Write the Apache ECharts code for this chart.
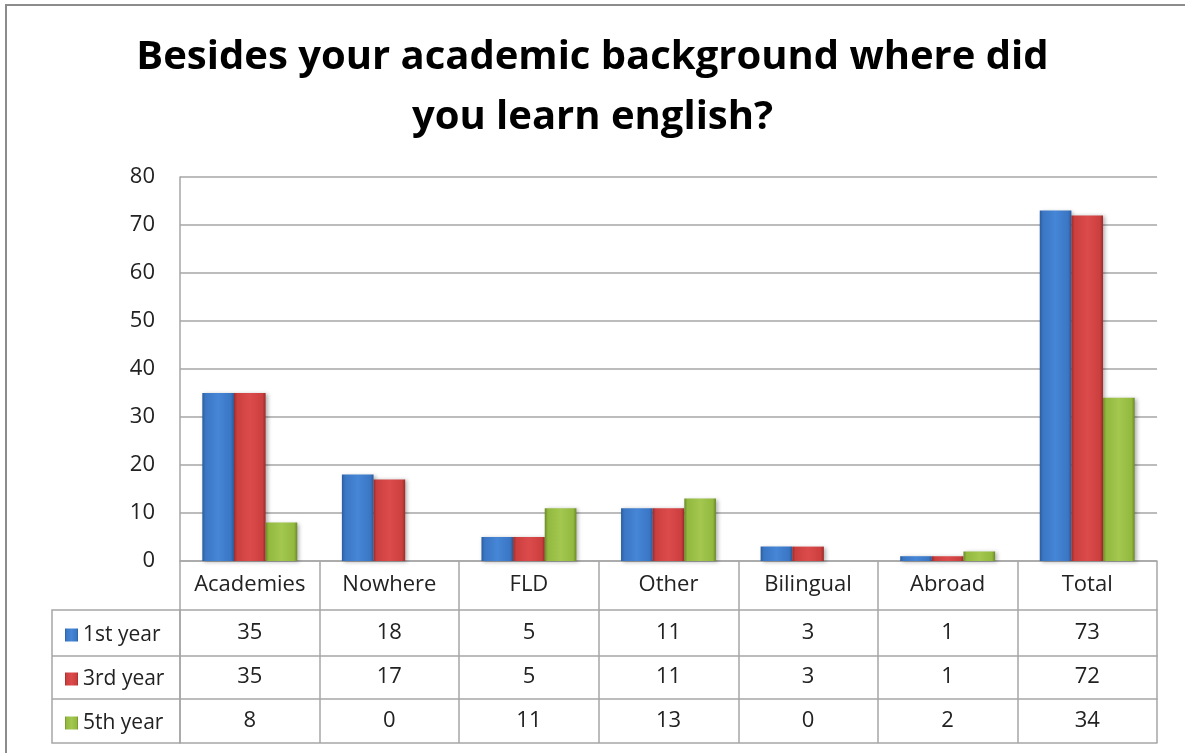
<!DOCTYPE html>
<html>
<head>
<meta charset="utf-8">
<script src="https://cdn.jsdelivr.net/npm/echarts@6/dist/echarts.min.js"></script>
<style>
  html, body { margin: 0; padding: 0; background: #fff; }
  #chart { width: 1185px; height: 753px; }
</style>
</head>
<body>
<div id="chart"></div>
<script>
  var categories = ['Academies', 'Nowhere', 'FLD', 'Other', 'Bilingual', 'Abroad', 'Total'];
  var seriesNames = ['1st year', '3rd year', '5th year'];
  var firstYear = [35, 18, 5, 11, 3, 1, 73];
  var thirdYear = [35, 17, 5, 11, 3, 1, 72];
  var fifthYear = [8, 0, 11, 13, 0, 2, 34];
  var yTicks = [0, 10, 20, 30, 40, 50, 60, 70, 80];

  var font = '"Open Sans", "DejaVu Sans", sans-serif';
  var lineCol = '#a6a6a6';

  // horizontal gradient to get the bevelled bar look
  function bevel(dark, mid, light) {
    return new echarts.graphic.LinearGradient(0, 0, 1, 0, [
      {offset: 0, color: dark},
      {offset: 0.1, color: mid},
      {offset: 0.5, color: light},
      {offset: 0.9, color: mid},
      {offset: 1, color: dark}
    ]);
  }
  var colors = [
    bevel('#2a5c9c', '#3a76c4', '#4686d6'),
    bevel('#9c2b2b', '#cc3f3f', '#dc4b4b'),
    bevel('#6a8a28', '#93b93f', '#a3c74f')
  ];
  var values = [firstYear, thirdYear, fifthYear];

  // one extra x axis per table row, labels = the row values
  function rowAxis(data, offset, margin) {
    return {
      type: 'category',
      position: 'bottom',
      offset: offset,
      data: data.map(String),
      axisLine: {show: true, lineStyle: {color: lineCol, width: 1.5}},
      axisTick: {show: false},
      axisLabel: {
        show: data.length > 0,
        interval: 0,
        margin: margin,
        fontSize: 22,
        lineHeight: 22,
        fontFamily: font,
        color: '#222'
      }
    };
  }

  var chart = echarts.init(document.getElementById('chart'));
  chart.setOption({
    animation: false,
    title: {
      text: 'Besides your academic background where did\nyou learn english?',
      left: 'center',
      top: 28,
      padding: 0,
      textStyle: {
        fontSize: 40,
        fontWeight: 'bold',
        fontFamily: font,
        lineHeight: 60,
        color: '#000'
      }
    },
    legend: {
      orient: 'vertical',
      left: 60,
      top: 619,
      itemWidth: 13,
      itemHeight: 13,
      itemGap: 22,
      icon: 'rect',
      data: seriesNames,
      textStyle: {
        fontSize: 21,
        lineHeight: 22,
        fontFamily: font,
        color: '#222',
        padding: [0, 0, 0, 0]
      }
    },
    grid: {left: 180, right: 28, top: 177, bottom: 192},
    xAxis: [
      {
        type: 'category',
        data: categories,
        axisLine: {show: true, lineStyle: {color: lineCol, width: 1.5}},
        axisTick: {show: true, interval: 0, length: 182, lineStyle: {color: lineCol, width: 1.5}},
        axisLabel: {interval: 0, margin: 13, fontSize: 22, lineHeight: 22, fontFamily: font, color: '#222'}
      },
      rowAxis(firstYear, 49, 12),
      rowAxis(thirdYear, 95, 10),
      rowAxis(fifthYear, 138, 11),
      rowAxis([], 182, 0)
    ],
    yAxis: {
      type: 'value',
      min: yTicks[0],
      max: yTicks[yTicks.length - 1],
      interval: 10,
      axisLine: {show: true, lineStyle: {color: lineCol, width: 1.5}},
      axisTick: {show: false},
      splitLine: {lineStyle: {color: lineCol, width: 1.5}},
      axisLabel: {margin: 25, fontSize: 22, fontFamily: font, color: '#222'}
    },
    series: seriesNames.map(function (name, i) {
      return {
        name: name,
        type: 'bar',
        data: values[i],
        barGap: '0%',
        barCategoryGap: '32%',
        itemStyle: {
          color: colors[i],
          shadowColor: 'rgba(0,0,0,0.3)',
          shadowBlur: 4,
          shadowOffsetX: 2,
          shadowOffsetY: 1
        }
      };
    }),
    graphic: [
      {
        type: 'rect',
        shape: {x: 6, y: 5, width: 1200, height: 800},
        style: {fill: 'none', stroke: '#8c8c8c', lineWidth: 2},
        silent: true
      },
      {
        type: 'rect',
        shape: {x: 52, y: 610, width: 128, height: 133},
        style: {fill: 'none', stroke: lineCol, lineWidth: 1.5},
        silent: true
      },
      {
        type: 'line',
        shape: {x1: 52, y1: 656, x2: 180, y2: 656},
        style: {stroke: lineCol, lineWidth: 1.5},
        silent: true
      },
      {
        type: 'line',
        shape: {x1: 52, y1: 699, x2: 180, y2: 699},
        style: {stroke: lineCol, lineWidth: 1.5},
        silent: true
      }
    ]
  });
</script>
</body>
</html>
